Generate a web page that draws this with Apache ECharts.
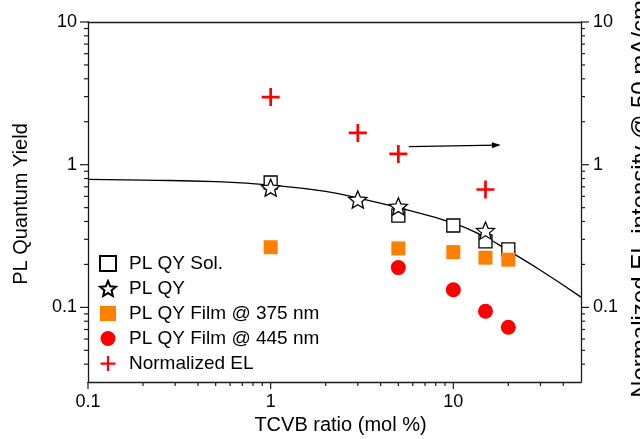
<!DOCTYPE html>
<html>
<head>
<meta charset="utf-8">
<script src="https://cdn.jsdelivr.net/npm/echarts@6/dist/echarts.min.js"></script>
<style>
  html, body { margin: 0; padding: 0; background: #fff; }
  #chart { width: 640px; height: 439px; }
</style>
</head>
<body>
<div id="chart"></div>
<script>
// values
var solX = [1, 5, 10, 15, 20];
var solY = [0.75, 0.44, 0.375, 0.29, 0.255];
var qyX = [1, 3, 5, 15];
var qyY = [0.69, 0.57, 0.51, 0.345];
var film375X = [1, 5, 10, 15, 20];
var film375Y = [0.264, 0.259, 0.244, 0.223, 0.216];
var film445X = [5, 10, 15, 20];
var film445Y = [0.19, 0.133, 0.094, 0.0726];
var elX = [1, 3, 5, 15];
var elY = [2.98, 1.67, 1.19, 0.67];
var fitX = [0.1, 0.2, 0.5, 1, 2, 3, 5, 10, 15, 20, 30, 50];
var fitY = [0.79, 0.78, 0.76, 0.72, 0.65, 0.585, 0.50, 0.39, 0.31, 0.25, 0.182, 0.118];
var arrowX = [5.7, 17.2];
var arrowY = [1.34, 1.37];

var xMin = 0.1, xMax = 50, yMin = 0.03, yMax = 10;
var xTickValues = [0.1, 1, 10];
var xTickLabels = ['0.1', '1', '10'];
var yTickValues = [0.1, 1, 10];
var yTickLabels = ['0.1', '1', '10'];
var xMinorTicks = [0.2, 0.3, 0.4, 0.5, 0.6, 0.7, 0.8, 0.9, 2, 3, 4, 5, 6, 7, 8, 9, 20, 30, 40];
var yMinorTicks = [0.04, 0.05, 0.06, 0.07, 0.08, 0.09, 0.2, 0.3, 0.4, 0.5, 0.6, 0.7, 0.8, 0.9, 2, 3, 4, 5, 6, 7, 8, 9];

var legendNames = ['PL QY Sol.', 'PL QY', 'PL QY Film @ 375 nm', 'PL QY Film @ 445 nm', 'Normalized EL'];

var axisColor = '#1a1a1a';
var font = 'Liberation Sans, Arial, Helvetica, sans-serif';

function pairs(xs, ys) {
    return xs.map(function (x, i) { return [x, ys[i]]; });
}

function labelFor(values, labels) {
    return function (v) {
        for (var i = 0; i < values.length; i++) {
            if (Math.abs(Math.log10(v) - Math.log10(values[i])) < 1e-6) return labels[i];
        }
        return '';
    };
}

// star outline and plus sign symbols
function starPath() {
    var pts = [];
    for (var i = 0; i < 10; i++) {
        var r = i % 2 ? 0.45 : 1;
        var a = -Math.PI / 2 + i * Math.PI / 5;
        pts.push((r * Math.cos(a)).toFixed(3) + ',' + (r * Math.sin(a)).toFixed(3));
    }
    return 'path://M' + pts.join('L') + 'Z';
}
var star = starPath();
var plus = 'path://M8.5,0H11.5V8.5H20V11.5H11.5V20H8.5V11.5H0V8.5H8.5Z';

// tick marks drawn through the axis scales (log minor ticks)
function tickSeries(values, side, len) {
    var data = values.map(function (v) {
        if (side === 'bottom') return [v, yMin];
        if (side === 'left') return [xMin, v];
        return [xMax, v];
    });
    return {
        type: 'custom',
        silent: true,
        z: 5,
        data: data,
        renderItem: function (params, api) {
            var p = api.coord([api.value(0), api.value(1)]);
            var shape;
            if (side === 'bottom') shape = {x1: p[0], y1: p[1], x2: p[0], y2: p[1] + len};
            else if (side === 'left') shape = {x1: p[0], y1: p[1], x2: p[0] - len, y2: p[1]};
            else shape = {x1: p[0], y1: p[1], x2: p[0] + len, y2: p[1]};
            return {type: 'line', shape: shape, style: {stroke: axisColor, lineWidth: 1.2}};
        }
    };
}

var myChart = echarts.init(document.getElementById('chart'));

option = {
    animation: false,
    backgroundColor: '#fff',
    textStyle: {fontFamily: font, color: '#000'},
    grid: {left: 88, right: 59, top: 22, bottom: 57, outerBoundsMode: 'none', containLabel: false},
    legend: {
        orient: 'vertical',
        left: 94,
        top: 249,
        itemWidth: 16,
        itemHeight: 15,
        itemGap: 6,
        symbolKeepAspect: true,
        selectedMode: false,
        data: legendNames,
        textStyle: {fontSize: 19, color: '#000', fontFamily: font, padding: [0, 0, 0, 8]}
    },
    xAxis: [
        {
            type: 'log',
            logBase: 10,
            min: xMin,
            max: xMax,
            position: 'bottom',
            axisLine: {lineStyle: {color: axisColor, width: 1.3}},
            axisTick: {show: false},
            minorTick: {show: false},
            splitLine: {show: false},
            axisLabel: {fontSize: 18, color: '#000', margin: 11, formatter: labelFor(xTickValues, xTickLabels)},
            name: 'TCVB ratio (mol %)',
            nameLocation: 'middle',
            nameGap: 28,
            nameTextStyle: {fontSize: 20, color: '#000', padding: [0, 0, 0, 12]}
        },
        {
            type: 'log',
            logBase: 10,
            min: xMin,
            max: xMax,
            position: 'top',
            axisLine: {lineStyle: {color: axisColor, width: 1.3}},
            axisTick: {show: false},
            axisLabel: {show: false},
            splitLine: {show: false}
        }
    ],
    yAxis: [
        {
            type: 'log',
            logBase: 10,
            min: yMin,
            max: yMax,
            position: 'left',
            axisLine: {show: true, lineStyle: {color: axisColor, width: 1.3}},
            axisTick: {show: false},
            minorTick: {show: false},
            splitLine: {show: false},
            axisLabel: {fontSize: 18, color: '#000', margin: 11, formatter: labelFor(yTickValues, yTickLabels)},
            name: 'PL Quantum Yield',
            nameLocation: 'middle',
            nameRotate: 90,
            nameGap: 57,
            nameTextStyle: {fontSize: 20, color: '#000', padding: [0, 4, 0, 0]}
        },
        {
            type: 'log',
            logBase: 10,
            min: yMin,
            max: yMax,
            position: 'right',
            axisLine: {show: true, lineStyle: {color: axisColor, width: 1.3}},
            axisTick: {show: false},
            minorTick: {show: false},
            splitLine: {show: false},
            axisLabel: {fontSize: 18, color: '#000', margin: 12, formatter: labelFor(yTickValues, yTickLabels)},
            name: 'Normalized EL intensity @ 50 mA/cm{sup|2}',
            nameLocation: 'middle',
            nameRotate: 90,
            nameGap: 44,
            nameTextStyle: {
                fontSize: 24,
                color: '#000',
                padding: [0, 0, 0, 14],
                rich: {sup: {fontSize: 14, color: '#000', verticalAlign: 'top', fontFamily: font}}
            }
        }
    ],
    series: [
        {
            name: 'fit',
            type: 'line',
            data: pairs(fitX, fitY),
            symbol: 'none',
            smooth: true,
            lineStyle: {color: '#000', width: 1.3},
            silent: true,
            z: 2,
            markLine: {
                silent: true,
                symbol: ['none', 'triangle'],
                symbolSize: [6, 9],
                label: {show: false},
                lineStyle: {color: '#000', width: 1.2, type: 'solid'},
                data: [[{coord: [arrowX[0], arrowY[0]]}, {coord: [arrowX[1], arrowY[1]]}]]
            }
        },
        {
            name: legendNames[0],
            type: 'scatter',
            data: pairs(solX, solY),
            symbol: 'rect',
            symbolSize: 13,
            symbolKeepAspect: true,
            itemStyle: {color: '#fff', borderColor: '#000', borderWidth: 1.3, opacity: 1},
            z: 3
        },
        {
            name: legendNames[1],
            type: 'scatter',
            data: pairs(qyX, qyY),
            symbol: star,
            symbolSize: 18,
            symbolKeepAspect: true,
            itemStyle: {color: '#fff', borderColor: '#000', borderWidth: 1.3, opacity: 1},
            z: 4
        },
        {
            name: legendNames[2],
            type: 'scatter',
            data: pairs(film375X, film375Y),
            symbol: 'rect',
            symbolSize: 14,
            symbolKeepAspect: true,
            itemStyle: {color: '#ff8000', opacity: 1},
            z: 4
        },
        {
            name: legendNames[3],
            type: 'scatter',
            data: pairs(film445X, film445Y),
            symbol: 'circle',
            symbolSize: 15,
            itemStyle: {color: '#ff0000', opacity: 1},
            z: 4
        },
        {
            name: legendNames[4],
            type: 'scatter',
            yAxisIndex: 1,
            data: pairs(elX, elY),
            symbol: plus,
            symbolSize: 18,
            symbolKeepAspect: true,
            itemStyle: {color: '#ff0000', opacity: 1},
            z: 4
        },
        tickSeries(xTickValues, 'bottom', 7),
        tickSeries(xMinorTicks, 'bottom', 4),
        tickSeries(yTickValues, 'left', 8),
        tickSeries(yMinorTicks, 'left', 4),
        tickSeries(yTickValues, 'right', 8),
        tickSeries(yMinorTicks, 'right', 4)
    ]
};
myChart.setOption(option);
</script>
</body>
</html>
